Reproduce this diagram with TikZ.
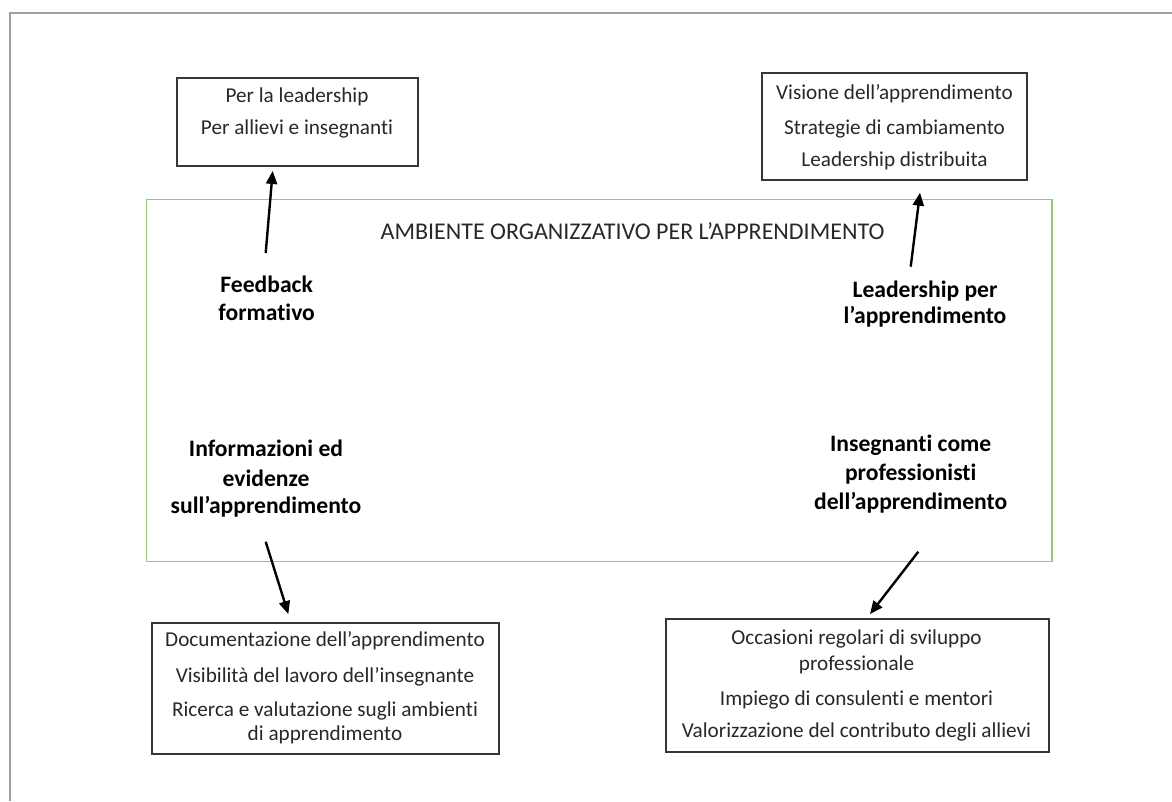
\documentclass[tikz,border=0pt]{standalone}
\usepackage{fontspec}
\setmainfont{Carlito}[RawFeature={-liga}]
\usetikzlibrary{arrows.meta}
\definecolor{framegray}{RGB}{160,160,160}
\definecolor{envgreen}{RGB}{146,200,118}
\definecolor{boxline}{RGB}{55,55,55}
\definecolor{boxtxt}{RGB}{40,40,40}
\tikzset{
  box/.style={draw=boxline, line width=1.8pt, inner sep=0pt, fill=white},
  item/.style={anchor=base, inner sep=0pt, text=boxtxt, font=\fontsize{21.2}{25}\selectfont},
  head/.style={anchor=base, inner sep=0pt, text=black, font=\fontsize{23.6}{28}\selectfont\bfseries},
  title/.style={anchor=base, inner sep=0pt, text=boxtxt, font=\fontsize{24}{28}\selectfont},
  arr/.style={line width=2.4pt, -{Triangle[length=13pt,width=11pt]}}
}
\begin{document}
\begin{tikzpicture}[x=1pt,y=-1pt]
\useasboundingbox (0,0) rectangle (1172,801);
% page frame (top and left edges only)
\draw[framegray, line width=2.5pt] (10,801) -- (10,13) -- (1172,13);

% learning environment
\node[draw=envgreen, line width=1.5pt, inner sep=0pt, minimum width=905.3pt, minimum height=362.4pt] (env) at (599.35,380.5) {};
\node[title] (envt) at (632.5,239) {AMBIENTE ORGANIZZATIVO PER L’APPRENDIMENTO};

% outer boxes
\node[box, minimum width=241pt, minimum height=87.7pt] (b1) at (297.2,122.2) {};
\node[item] (b1a) at (297,102.5) {Per la leadership};
\node[item] (b1b) at (297,134.5) {Per allievi e insegnanti};

\node[box, minimum width=265pt, minimum height=106.7pt] (b2) at (894.8,126.7) {};
\node[item] (b2a) at (894.5,99) {Visione dell’apprendimento};
\node[item] (b2b) at (894.5,134.5) {Strategie di cambiamento};
\node[item] (b2c) at (894.5,166) {Leadership distribuita};

\node[box, minimum width=347.3pt, minimum height=131.3pt] (b3) at (325.35,688.35) {};
\node[item] (b3a) at (325,646.5) {Documentazione dell’apprendimento};
\node[item] (b3b) at (325,682) {Visibilità del lavoro dell’insegnante};
\node[item] (b3c) at (325,716.5) {Ricerca e valutazione sugli ambienti};
\node[item] (b3d) at (325,740.5) {di apprendimento};

\node[box, minimum width=383.6pt, minimum height=132.4pt] (b4) at (857.5,685.5) {};
\node[item] (b4a) at (856.5,644.5) {Occasioni regolari di sviluppo};
\node[item] (b4b) at (856.5,670.5) {professionale};
\node[item] (b4c) at (856.5,705.5) {Impiego di consulenti e mentori};
\node[item] (b4d) at (856.5,737) {Valorizzazione del contributo degli allievi};

% dimension labels
\node[head] (fb1) at (266.7,292) {Feedback};
\node[head] (fb2) at (266.7,320) {formativo};

\node[head] (lp1) at (925,297) {Leadership per};
\node[head] (lp2) at (925,323) {l’apprendimento};

\node[head] (ie1) at (266,456) {Informazioni ed};
\node[head] (ie2) at (266,486) {evidenze};
\node[head] (ie3) at (266,513.3) {sull’apprendimento};

\node[head] (ic1) at (910.7,451.7) {Insegnanti come};
\node[head] (ic2) at (910.7,480.7) {professionisti};
\node[head] (ic3) at (910.7,509) {dell’apprendimento};

% connectors
\draw[arr] ([xshift=-1pt,yshift=39pt]fb1.base) -- ([xshift=-24.5pt,yshift=-4pt]b1.south);
\draw[arr] ([xshift=-14.3pt,yshift=30.3pt]lp1.base) -- ([xshift=25.2pt,yshift=-11.7pt]b2.south);
\draw[arr] ([xshift=-0.3pt,yshift=-28.4pt]ie3.base) -- ([xshift=-37pt,yshift=7.7pt]b3.north);
\draw[arr] ([xshift=7.6pt,yshift=-42.7pt]ic3.base) -- ([xshift=12.5pt,yshift=4.3pt]b4.north);
\end{tikzpicture}
\end{document}
